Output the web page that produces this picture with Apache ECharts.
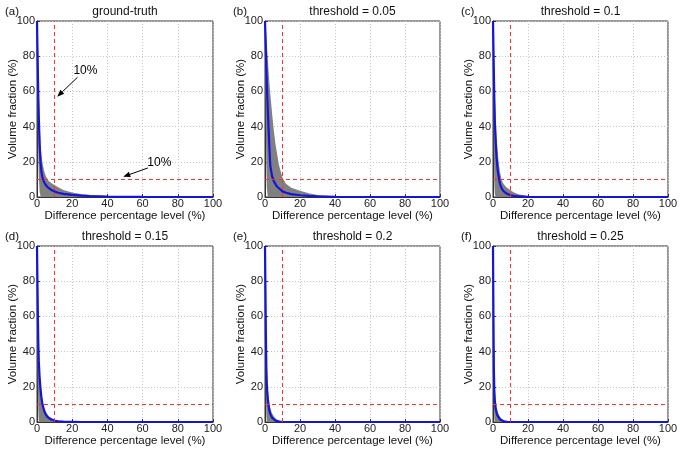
<!DOCTYPE html>
<html>
<head>
<meta charset="utf-8">
<script src="https://cdn.jsdelivr.net/npm/echarts@6/dist/echarts.min.js"></script>
<style>
  html, body { margin: 0; padding: 0; background: #fff; }
  #chart { width: 684px; height: 453px; }
</style>
</head>
<body>
<div id="chart"></div>
<script>
// difference percentage levels (%) shared by every panel
const levels = [0, 0.25, 0.5, 0.75, 1, 1.5, 2, 2.5, 3, 4, 5, 6, 7, 8, 10, 12, 15, 20, 25, 30, 40, 50, 60, 80, 100]

const panelLabels = ['(a)', '(b)', '(c)', '(d)', '(e)', '(f)']
const panelTitles = ['ground-truth', 'threshold = 0.05', 'threshold = 0.1', 'threshold = 0.15', 'threshold = 0.2', 'threshold = 0.25']

// mean volume fraction (%), blue curve
const meanA = [100, 85, 70, 57, 46, 30, 20, 14.5, 11.5, 8.5, 6.8, 5.6, 4.8, 4.1, 3.1, 2.4, 1.8, 1.2, 0.8, 0.5, 0.2, 0.1, 0.05, 0, 0]
const meanB = [100, 92, 83, 74, 65, 52, 40, 28, 18, 12, 9, 7.3, 5.8, 4.8, 3.2, 2.4, 1.6, 1, 0.6, 0.4, 0.1, 0, 0, 0, 0]
const meanC = [100, 85, 70, 56, 44, 32, 23, 17, 13, 7.5, 4.8, 3.3, 2.4, 1.8, 1, 0.6, 0.3, 0.1, 0, 0, 0, 0, 0, 0, 0]
const meanD = [100, 80, 60, 45, 35, 25, 19, 14, 10.5, 6.5, 4.2, 2.8, 2, 1.4, 0.7, 0.4, 0.2, 0.1, 0, 0, 0, 0, 0, 0, 0]
const meanE = [100, 75, 50, 32, 22, 14, 9.5, 6.5, 4.5, 2.5, 1.4, 0.8, 0.5, 0.3, 0.1, 0, 0, 0, 0, 0, 0, 0, 0, 0, 0]
const meanF = [100, 60, 30, 18, 12.5, 8, 5.5, 3.8, 2.7, 1.4, 0.8, 0.4, 0.2, 0.1, 0, 0, 0, 0, 0, 0, 0, 0, 0, 0, 0]

// upper bound of the gray band (%)
const upperA = [100, 95, 88, 76, 62, 42, 30, 24, 20, 15, 12, 10, 8.8, 8, 6.8, 5.5, 4, 2.6, 1.7, 1.1, 0.5, 0.2, 0.05, 0, 0]
const upperB = [100, 98, 95, 91, 87, 80, 72, 65, 59, 48, 38, 30, 24, 18, 11, 7.5, 5.2, 3.5, 2.2, 1.2, 0.3, 0.05, 0, 0, 0]
const upperC = [100, 95, 85, 72, 60, 45, 35, 28, 22, 14, 9.5, 7.5, 6.2, 5.2, 3.8, 2.6, 1.4, 0.4, 0.1, 0, 0, 0, 0, 0, 0]
const upperD = [100, 90, 72, 55, 43, 30, 22, 17, 13, 8.5, 5.8, 4.2, 3.1, 2.4, 1.4, 0.9, 0.5, 0.3, 0.1, 0, 0, 0, 0, 0, 0]
const upperE = [100, 85, 62, 45, 33, 20, 14, 10.5, 8, 5, 3.2, 2, 1.3, 0.8, 0.3, 0.1, 0, 0, 0, 0, 0, 0, 0, 0, 0]
const upperF = [100, 75, 45, 28, 19, 12, 8.5, 6.3, 4.8, 3, 1.8, 1.1, 0.7, 0.4, 0.1, 0, 0, 0, 0, 0, 0, 0, 0, 0, 0]

// lower bound of the gray band (%)
const lowerA = [100, 65, 40, 22, 12, 3, 0.5, 0, 0, 0, 0, 0, 0, 0, 0, 0, 0, 0, 0, 0, 0, 0, 0, 0, 0]
const lowerB = [100, 70, 40, 18, 6, 0.5, 0, 0, 0, 0, 0, 0, 0, 0, 0, 0, 0, 0, 0, 0, 0, 0, 0, 0, 0]
const lowerC = [100, 55, 25, 8, 2, 0, 0, 0, 0, 0, 0, 0, 0, 0, 0, 0, 0, 0, 0, 0, 0, 0, 0, 0, 0]
const lowerD = [100, 50, 20, 6, 1, 0, 0, 0, 0, 0, 0, 0, 0, 0, 0, 0, 0, 0, 0, 0, 0, 0, 0, 0, 0]
const lowerE = [100, 45, 15, 4, 0.5, 0, 0, 0, 0, 0, 0, 0, 0, 0, 0, 0, 0, 0, 0, 0, 0, 0, 0, 0, 0]
const lowerF = [100, 35, 10, 2, 0, 0, 0, 0, 0, 0, 0, 0, 0, 0, 0, 0, 0, 0, 0, 0, 0, 0, 0, 0, 0]

const axisTicks = [0, 20, 40, 60, 80, 100]
const limitLevel = 10 // red dashed 10% lines

// "10%" annotations of panel (a), in data units
const arrowTails = [[23, 68], [63, 16.5]]
const arrowHeads = [[11.5, 57], [49, 11.5]]
const arrowTexts = [[27.5, 71.5], [69.5, 19.5]]
const arrowLabel = '10%'

const means = [meanA, meanB, meanC, meanD, meanE, meanF]
const uppers = [upperA, upperB, upperC, upperD, upperE, upperF]
const lowers = [lowerA, lowerB, lowerC, lowerD, lowerE, lowerF]

const font = '"Liberation Sans", Arial, sans-serif'
const lefts = [37, 265, 493]
const widths = [176, 175, 175]
const tops = [21, 246]
const plotH = 176

let grids = [], xAxes = [], yAxes = [], titles = [], series = []

// gray band: polygon along the upper bound, back along the lower bound
function bandRenderer(i) {
  return function (params, api) {
    const pts = []
    for (let k = 0; k < levels.length; k++) pts.push(api.coord([levels[k], uppers[i][k]]))
    for (let k = levels.length - 1; k >= 0; k--) pts.push(api.coord([levels[k], lowers[i][k]]))
    return { type: 'polygon', shape: { points: pts }, style: { fill: '#808080', stroke: null } }
  }
}

// black arrows with their text (panel a only)
function arrowShapes(api) {
  const out = []
  for (let k = 0; k < arrowTails.length; k++) {
    const p0 = api.coord(arrowTails[k])
    const p1 = api.coord(arrowHeads[k])
    const t = api.coord(arrowTexts[k])
    const ang = Math.atan2(p1[1] - p0[1], p1[0] - p0[0])
    const len = 7, half = 2.8
    const bx = p1[0] - len * Math.cos(ang), by = p1[1] - len * Math.sin(ang)
    const nx = -Math.sin(ang) * half, ny = Math.cos(ang) * half
    out.push({ type: 'line', shape: { x1: p0[0], y1: p0[1], x2: bx, y2: by }, style: { stroke: '#000', lineWidth: 1 } })
    out.push({ type: 'polygon', shape: { points: [p1, [bx + nx, by + ny], [bx - nx, by - ny]] }, style: { fill: '#000', stroke: null } })
    out.push({ type: 'text', x: t[0], y: t[1], style: { text: arrowLabel, fill: '#000', fontSize: 12, fontFamily: font, align: 'center', verticalAlign: 'middle' } })
  }
  return out
}

// snap a 1px line to the pixel grid so it stays crisp
const snap = v => Math.round(v - 0.5) + 0.5

// red dashed 10% lines across the whole plot
function limitRenderer(i) {
  return function (params, api) {
    const lo = axisTicks[0], hi = axisTicks[axisTicks.length - 1]
    const v0 = api.coord([limitLevel, lo]), v1 = api.coord([limitLevel, hi])
    const h0 = api.coord([lo, limitLevel]), h1 = api.coord([hi, limitLevel])
    const vx = snap(v0[0]), hy = snap(h0[1])
    const st = { stroke: '#ff3030', lineWidth: 1, lineDash: [4, 3] }
    const children = [
      { type: 'line', shape: { x1: vx, y1: v0[1], x2: vx, y2: v1[1] }, style: st },
      { type: 'line', shape: { x1: h0[0], y1: hy, x2: h1[0], y2: hy }, style: Object.assign({}, st) }
    ]
    if (i === 0) arrowShapes(api).forEach(c => children.push(c))
    return { type: 'group', children: children }
  }
}

for (let i = 0; i < 6; i++) {
  const col = i % 3
  const row = Math.floor(i / 3)
  const left = lefts[col]
  const top = tops[row]
  grids.push({
    left: left, top: top, width: widths[col], height: plotH,
    show: true, borderColor: '#333', borderWidth: 1
  })
  const axisCommon = {
    gridIndex: i, min: axisTicks[0], max: axisTicks[axisTicks.length - 1],
    interval: axisTicks[1] - axisTicks[0],
    axisLine: { show: true, lineStyle: { color: '#333', width: 1 } },
    axisTick: { show: true, inside: true, length: 3, lineStyle: { color: '#333' } },
    splitLine: { show: true, lineStyle: { color: '#c4c4c4', type: [1, 2], width: 1 } },
    axisLabel: { color: '#222', fontSize: 11, fontFamily: font },
    nameLocation: 'middle',
    nameMoveOverlap: false,
    nameTextStyle: { color: '#111', fontSize: 11.5, fontFamily: font }
  }
  xAxes.push(Object.assign({}, axisCommon, {
    type: 'value', name: 'Difference percentage level (%)', nameGap: 13,
    axisLabel: Object.assign({}, axisCommon.axisLabel, { margin: 1 })
  }))
  yAxes.push(Object.assign({}, axisCommon, {
    type: 'value', name: 'Volume fraction (%)', nameGap: 18,
    axisLabel: Object.assign({}, axisCommon.axisLabel, { margin: 2 })
  }))
  titles.push({
    text: panelTitles[i], left: left + widths[col] / 2, top: top - 15, textAlign: 'center', padding: 0,
    textStyle: { fontSize: 12, fontWeight: 'normal', color: '#111', fontFamily: font }
  })
  titles.push({
    text: panelLabels[i], left: left - 32, top: top - 15, padding: 0,
    textStyle: { fontSize: 11.5, fontWeight: 'normal', color: '#111', fontFamily: font }
  })

  const meanData = levels.map((x, k) => [x, means[i][k]])

  series.push({
    type: 'custom', xAxisIndex: i, yAxisIndex: i, data: [[0, 0]],
    renderItem: bandRenderer(i), clip: true, silent: true, z: 2
  })
  series.push({
    type: 'line', xAxisIndex: i, yAxisIndex: i, data: meanData, symbol: 'none',
    lineStyle: { color: '#1414dc', width: 2.2 }, silent: true, z: 3
  })
  series.push({
    type: 'custom', xAxisIndex: i, yAxisIndex: i, data: [[limitLevel, limitLevel]],
    renderItem: limitRenderer(i), clip: false, silent: true, z: 4
  })
}

const chart = echarts.init(document.getElementById('chart'), null, { renderer: 'canvas' })
chart.setOption({
  animation: false,
  backgroundColor: '#fff',
  title: titles,
  grid: grids,
  xAxis: xAxes,
  yAxis: yAxes,
  series: series
})
</script>
</body>
</html>
